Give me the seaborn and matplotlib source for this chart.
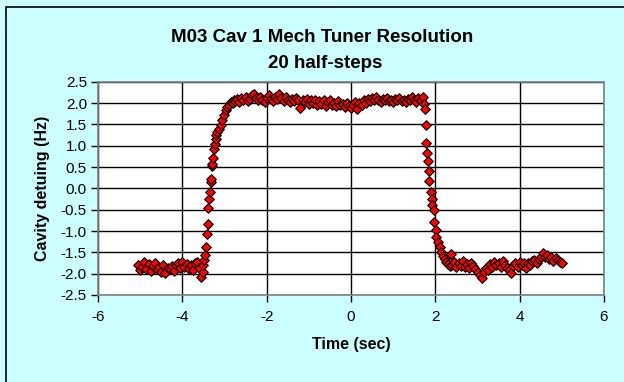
import pandas as pd
import seaborn as sns
import matplotlib.pyplot as plt
from matplotlib.patches import Rectangle

# time (s) and cavity detuning (Hz) in segments
t_before = [-5.05, -5.00, -4.95, -4.90, -4.85, -4.80, -4.75, -4.70, -4.65, -4.60,
            -4.55, -4.50, -4.45, -4.40, -4.35, -4.30, -4.25, -4.20, -4.15, -4.10,
            -4.05, -4.00, -3.95, -3.90, -3.85, -3.80, -3.75, -3.70, -3.65, -3.60, -3.55]
df_before = [-1.80, -1.92, -1.85, -1.72, -1.88, -1.78, -1.93, -1.82, -1.75, -1.90,
             -1.84, -1.95, -1.80, -1.98, -1.86, -1.90, -1.83, -1.94, -1.80, -1.76,
             -1.86, -1.72, -1.84, -1.78, -1.88, -1.80, -1.92, -1.76, -1.72, -1.86, -2.08]

t_rise = [-3.52, -3.50, -3.48, -3.46, -3.44, -3.42, -3.40, -3.38, -3.36, -3.35,
          -3.33, -3.32, -3.30, -3.29, -3.27, -3.25, -3.23, -3.21, -3.19, -3.17,
          -3.13, -3.09, -3.05, -3.01, -2.97, -2.93, -2.89, -2.85, -2.81, -2.77]
df_rise = [-1.95, -1.80, -1.68, -1.57, -1.38, -1.06, -0.83, -0.47, -0.24, -0.08,
           0.15, 0.23, 0.52, 0.58, 0.70, 0.93, 1.05, 1.15, 1.25, 1.32,
           1.40, 1.48, 1.60, 1.71, 1.83, 1.90, 1.95, 2.02, 2.00, 2.06]

t_top = [-2.75, -2.70, -2.65, -2.60, -2.55, -2.50, -2.45, -2.40, -2.35, -2.30,
         -2.25, -2.20, -2.15, -2.10, -2.05, -2.00, -1.95, -1.90, -1.85, -1.80,
         -1.75, -1.70, -1.65, -1.60, -1.55, -1.50, -1.45, -1.40, -1.35, -1.30,
         -1.25, -1.20, -1.15, -1.10, -1.05, -1.00, -0.95, -0.90, -0.85, -0.80,
         -0.75, -0.70, -0.65, -0.60, -0.55, -0.50, -0.45, -0.40, -0.35, -0.30,
         -0.25, -0.20, -0.15, -0.10, -0.05, 0.00, 0.05, 0.10, 0.15, 0.20,
         0.25, 0.30, 0.35, 0.40, 0.45, 0.50, 0.55, 0.60, 0.65, 0.70,
         0.75, 0.80, 0.85, 0.90, 0.95, 1.00, 1.05, 1.10, 1.15, 1.20,
         1.25, 1.30, 1.35, 1.40, 1.45, 1.50, 1.55, 1.60, 1.65, 1.70]
df_top = [2.05, 2.10, 2.02, 2.12, 2.08, 2.15, 2.05, 2.10, 2.18, 2.22,
          2.12, 2.06, 2.15, 2.08, 2.02, 2.12, 2.18, 2.10, 2.05, 2.14,
          2.10, 2.22, 2.12, 2.05, 2.14, 2.08, 2.02, 2.10, 2.04, 2.12,
          2.06, 1.88, 2.08, 2.02, 2.10, 1.98, 2.06, 2.00, 2.08, 1.96,
          2.04, 1.98, 2.06, 1.94, 2.02, 2.08, 1.96, 2.00, 1.92, 2.04,
          1.95, 1.98, 1.90, 2.00, 1.94, 1.88, 1.96, 2.02, 1.85, 2.00,
          1.96, 2.06, 2.00, 2.10, 2.04, 2.12, 2.06, 2.14, 2.08, 2.02,
          2.10, 2.06, 2.12, 2.04, 2.08, 2.02, 2.10, 2.06, 2.12, 2.04,
          2.08, 2.02, 2.10, 2.06, 2.14, 2.08, 2.02, 2.12, 2.06, 2.15]

t_fall = [1.72, 1.75, 1.77, 1.79, 1.80, 1.82, 1.85, 1.86, 1.89, 1.92,
          1.93, 1.96, 1.98, 2.01, 2.02, 2.06, 2.10, 2.14, 2.18, 2.22,
          2.26, 2.30, 2.34, 2.38]
df_fall = [1.98, 1.87, 1.48, 1.07, 0.84, 0.64, 0.40, 0.17, -0.08, -0.24,
           -0.38, -0.51, -0.79, -0.98, -1.14, -1.25, -1.37, -1.49, -1.58, -1.66,
           -1.72, -1.78, -1.82, -1.55]

t_after = [2.40, 2.45, 2.50, 2.55, 2.60, 2.65, 2.70, 2.75, 2.80, 2.85,
           2.90, 2.95, 3.00, 3.05, 3.10, 3.15, 3.20, 3.25, 3.30, 3.35,
           3.40, 3.45, 3.50, 3.55, 3.60, 3.65, 3.70, 3.75, 3.80, 3.85,
           3.90, 3.95, 4.00, 4.05, 4.10, 4.15, 4.20, 4.25, 4.30, 4.35,
           4.40, 4.45, 4.50, 4.55, 4.60, 4.65, 4.70, 4.75, 4.80, 4.85,
           4.90, 4.95, 5.00]
df_after = [-1.80, -1.72, -1.85, -1.76, -1.82, -1.70, -1.84, -1.78, -1.86, -1.74,
            -1.82, -1.88, -1.95, -2.02, -2.10, -1.96, -1.86, -1.92, -1.78, -1.84,
            -1.72, -1.80, -1.76, -1.84, -1.70, -1.80, -1.86, -1.92, -1.98, -1.82,
            -1.76, -1.84, -1.72, -1.80, -1.76, -1.86, -1.74, -1.80, -1.70, -1.68,
            -1.76, -1.66, -1.60, -1.52, -1.62, -1.56, -1.66, -1.60, -1.70, -1.64,
            -1.68, -1.72, -1.74]

df = pd.DataFrame({
    'Time': t_before + t_rise + t_top + t_fall + t_after,
    'Detuning': df_before + df_rise + df_top + df_fall + df_after,
})

plt.rcParams["font.family"] = "Liberation Sans"
plt.rcParams["axes.unicode_minus"] = False

fig = plt.figure(figsize=(6.24, 3.82), dpi=100, facecolor='#CCFFFF')
ax = fig.add_axes([98 / 624, 1 - 295 / 382, 506 / 624, 213.3 / 382])
ax.set_facecolor('white')

# outer chart border
fig.patches.append(Rectangle((6 / 624, -0.1), 1.2, 1.1 - 7 / 382, transform=fig.transFigure,
                             fill=False, edgecolor='black', linewidth=1.2, zorder=0))

sns.scatterplot(x='Time', y='Detuning', data=df, ax=ax,
                marker='D', s=24, color='#FF0000', edgecolor='black', linewidth=0.8,
                zorder=3)

ax.set_xlim(-6, 6)
ax.set_ylim(-2.5, 2.5)
ax.set_xticks([-6, -4, -2, 0, 2, 4, 6])
ax.set_yticks([-2.5, -2.0, -1.5, -1.0, -0.5, 0.0, 0.5, 1.0, 1.5, 2.0, 2.5])
ax.set_yticklabels([f'{v:.1f}' for v in ax.get_yticks()])
ax.grid(True, color='black', linewidth=1.0)
ax.set_axisbelow(True)
for s in ax.spines.values():
    s.set_color('#808080')
    s.set_linewidth(1.2)
ax.tick_params(axis='both', labelsize=11, length=5, width=1, color='black', direction='out', pad=6)
ax.tick_params(axis='y', pad=3)

ax.set_xlabel('Time (sec)', fontsize=11.5, weight='bold', labelpad=9)
ax.set_ylabel('Cavity detuing (Hz)', fontsize=11.5, weight='bold', labelpad=8)

fig.text(322 / 624, 1 - 37 / 382, 'M03 Cav 1 Mech Tuner Resolution', ha='center', va='center',
         fontsize=13.5, weight='bold')
fig.text(325 / 624, 1 - 63 / 382, '20 half-steps', ha='center', va='center',
         fontsize=13.5, weight='bold')

plt.savefig('out.png', dpi=100, facecolor=fig.get_facecolor())
